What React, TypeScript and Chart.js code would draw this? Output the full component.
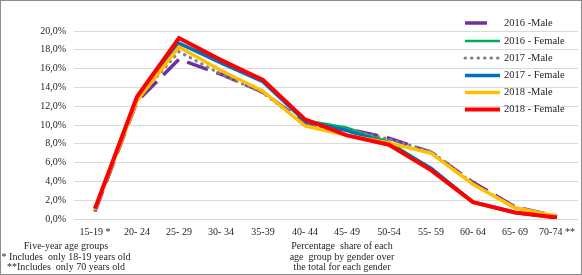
import React, { useEffect, useRef } from "react";
import { Chart, registerables } from "chart.js";

Chart.register(...registerables);

const categories = ["15-19 *", "20- 24", "25- 29", "30- 34", "35-39", "40- 44", "45- 49", "50-54", "55- 59", "60- 64", "65- 69", "70-74 **"];

const male2016 = [0.8, 12.5, 17.0, 15.4, 13.5, 10.2, 9.6, 8.6, 7.1, 3.9, 1.3, 0.3];
const female2016 = [1.1, 12.8, 18.6, 17.0, 14.7, 10.5, 9.7, 8.2, 5.4, 1.8, 0.7, 0.15];
const male2017 = [0.9, 12.7, 17.8, 15.4, 13.4, 10.0, 9.5, 8.5, 7.2, 3.8, 1.2, 0.3];
const female2017 = [1.1, 12.9, 18.7, 16.6, 14.6, 10.4, 9.4, 8.0, 5.4, 1.8, 0.7, 0.15];
const male2018 = [1.0, 12.6, 18.3, 15.8, 13.6, 9.9, 8.9, 8.1, 7.0, 3.7, 1.2, 0.3];
const female2018 = [1.1, 13.0, 19.25, 16.9, 14.8, 10.6, 8.9, 7.9, 5.2, 1.8, 0.7, 0.15];

const seriesNames = ["2016 -Male", "2016 - Female", "2017 -Male", "2017 - Female", "2018 -Male", "2018 - Female"];
const yTicks = [0, 2, 4, 6, 8, 10, 12, 14, 16, 18, 20];

const leftNotes = ["Five-year age groups", "* Includes  only 18-19 years old", "**Includes  only 70 years old"];
const rightNotes = ["Percentage  share of each", "age  group by gender over", "the total for each gender"];

const FONT = "'Liberation Serif', 'Times New Roman', serif";

export default function App() {
  const ref = useRef<HTMLCanvasElement | null>(null);

  useEffect(() => {
    if (!ref.current) return;
    const styles = [
      { color: "#7030A0", width: 3.5, dash: [22, 9], cap: "butt" },
      { color: "#00B050", width: 2.5, dash: [], cap: "butt" },
      { color: "#808080", width: 3, dash: [0.5, 6], cap: "round" },
      { color: "#0070C0", width: 3.5, dash: [], cap: "butt" },
      { color: "#FFC000", width: 3.5, dash: [], cap: "butt" },
      { color: "#FF0000", width: 4, dash: [], cap: "butt" },
    ];
    const data = [male2016, female2016, male2017, female2017, male2018, female2018];

    const overlay = {
      id: "overlay",
      afterDraw(chart: any) {
        const ctx = chart.ctx;
        ctx.save();
        // frame
        ctx.strokeStyle = "#8c8c8c";
        ctx.lineWidth = 1;
        ctx.strokeRect(0.5, 0.5, chart.width - 1, chart.height - 1);
        // legend
        const ly = [23, 41, 58, 75.5, 92.5, 109.5];
        ctx.font = "10.5px " + FONT;
        ctx.textBaseline = "middle";
        ctx.textAlign = "left";
        styles.forEach((s, i) => {
          ctx.beginPath();
          ctx.strokeStyle = s.color;
          ctx.lineWidth = s.width;
          ctx.lineCap = s.cap as CanvasLineCap;
          ctx.setLineDash(s.dash);
          const x1 = i === 0 ? 488 : 500;
          ctx.moveTo(465, ly[i]);
          ctx.lineTo(x1, ly[i]);
          ctx.stroke();
          ctx.setLineDash([]);
          ctx.lineCap = "butt";
          ctx.fillStyle = "#262626";
          ctx.fillText(seriesNames[i], 504, ly[i]);
        });
        // notes
        ctx.font = "10px " + FONT;
        ctx.textAlign = "center";
        ctx.fillStyle = "#262626";
        const ny = [246, 257, 267.5];
        leftNotes.forEach((t, i) => ctx.fillText(t, 66, ny[i]));
        rightNotes.forEach((t, i) => ctx.fillText(t, 342, ny[i]));
        ctx.restore();
      },
    };

    const chart = new Chart(ref.current, {
      type: "line",
      data: {
        labels: categories,
        datasets: data.map((d, i) => ({
          label: seriesNames[i],
          data: d,
          borderColor: styles[i].color,
          backgroundColor: styles[i].color,
          borderWidth: styles[i].width,
          borderDash: styles[i].dash,
          borderCapStyle: styles[i].cap as CanvasLineCap,
          pointRadius: 0,
          tension: 0,
          fill: false,
          order: 5 - i,
        })),
      },
      options: {
        animation: false,
        responsive: false,
        maintainAspectRatio: false,
        layout: { padding: { top: 31, left: 0, right: 3, bottom: 0 } },
        plugins: { legend: { display: false }, tooltip: { enabled: false } },
        scales: {
          x: {
            offset: true,
            grid: { display: false, drawTicks: false },
            border: { display: true, color: "#d9d9d9" },
            ticks: { color: "#262626", font: { family: FONT, size: 10 }, padding: 7, maxRotation: 0, autoSkip: false },
            afterFit: (s: any) => { s.height = 56; },
          },
          y: {
            min: 0,
            max: 20,
            afterBuildTicks: (s: any) => { s.ticks = yTicks.map((v) => ({ value: v })); },
            grid: { color: "#d9d9d9", drawTicks: false, lineWidth: 1 },
            border: { display: false },
            ticks: {
              color: "#262626",
              font: { family: FONT, size: 10 },
              padding: 8,
              callback: (v: any) => Number(v).toFixed(1).replace(".", ",") + "%",
            },
            afterFit: (s: any) => { s.width = 74; },
          },
        },
      },
      plugins: [overlay],
    });
    return () => chart.destroy();
  }, []);

  return (
    <div style={{ position: "fixed", left: 0, top: 0, width: 582, height: 275, background: "#fff" }}>
      <canvas ref={ref} width={582} height={275} style={{ width: 582, height: 275, display: "block" }} />
    </div>
  );
}
